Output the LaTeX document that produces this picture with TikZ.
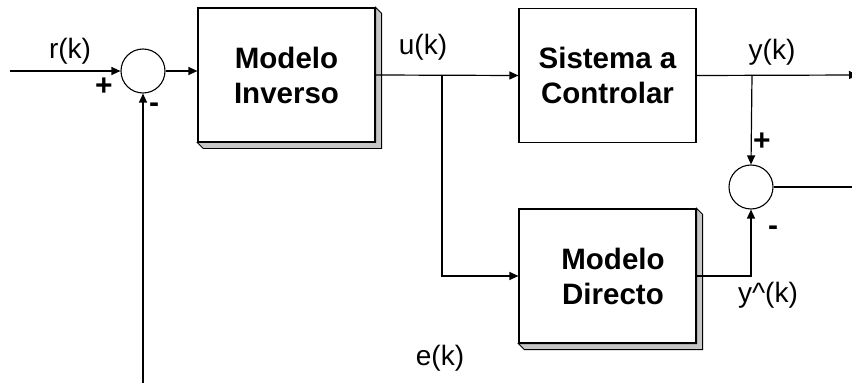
\documentclass[tikz,border=0pt]{standalone}
\usepackage{fontspec}
\setmainfont{Liberation Sans}
\usetikzlibrary{arrows.meta,calc}
\tikzset{
  blk/.style={draw=black,line width=1.2pt,fill=white,rectangle,minimum width=177pt,minimum height=134pt,inner sep=0pt,align=center,font=\fontsize{29.5}{35}\selectfont\bfseries},
  sumc/.style={draw=black,line width=1.1pt,circle,minimum size=44pt,inner sep=0pt},
  lbl/.style={font=\fontsize{28}{32}\selectfont,inner sep=0pt},
  sgn/.style={font=\fontsize{30}{32}\selectfont\bfseries,inner sep=0pt},
  wire/.style={line width=1.2pt,draw=black},
  arr/.style={wire,-{Triangle[length=9pt,width=8pt]}},
  bevel/.style={fill=gray!45,draw=black,line width=0.8pt,line join=miter}
}
\begin{document}
\begin{tikzpicture}[x=1pt,y=-1pt]
\useasboundingbox (0,0) rectangle (852,385);
\fill[white] (0,0) rectangle (852,385);
% blocks
\node[blk] (inv) at (286.5,75) {Modelo\\Inverso};
\node[blk] (sys) at (607.5,75.5) {Sistema a\\Controlar};
\node[blk] (dir) at (607.5,276) {\hspace*{11pt}Modelo\\\hspace*{11pt}Directo};
% bevels
\path[bevel] (inv.north east) -- ($(inv.north east)+(6,6)$) -- ($(inv.south east)+(6,6)$) -- ($(inv.south west)+(6,6)$) -- (inv.south west) -- (inv.south east) -- cycle;
\path[bevel] (dir.north east) -- ($(dir.north east)+(6,6)$) -- ($(dir.south east)+(6,6)$) -- ($(dir.south west)+(6,6)$) -- (dir.south west) -- (dir.south east) -- cycle;
% summing junctions
\node[sumc] (s1) at (143,71) {};
\node[sumc] (s2) at (751,187) {};
% coordinates
\coordinate (rin) at (10,71);
\coordinate (fb) at (143,383);
\coordinate (j1) at (442,75);
\coordinate (j2) at (752,75);
\coordinate (yout) at (858,75);
\coordinate (eout) at (852,187);
% connectors
\draw[arr] (rin) -- (s1.west);
\draw[arr] (s1.east) -- (s1.east -| inv.west);
\draw[arr] (inv.east) -- (sys.west);
\draw[arr] (j1) |- (dir.west);
\draw[arr] (sys.east) -- (yout);
\draw[arr] (j2) -- (s2.north);
\draw[arr] (dir.east) -| (s2.south);
\draw[wire] (s2.east) -- (eout);
\draw[arr] (fb) -- (s1.south);
% labels
\node[lbl] (lr) at (70,51) {r(k)};
\node[sgn] (p1) at (104,87) {+};
\node[sgn] (m1) at (154,108) {-};
\node[lbl] (lu) at (423,47) {u(k)};
\node[lbl] (ly) at (772,52) {y(k)};
\node[sgn] (p2) at (762,142) {+};
\node[sgn] (m2) at (773,231) {-};
\node[lbl] (lyh) at (768,295) {y\^{}(k)};
\node[lbl] (le) at (440,358) {e(k)};
\end{tikzpicture}
\end{document}
